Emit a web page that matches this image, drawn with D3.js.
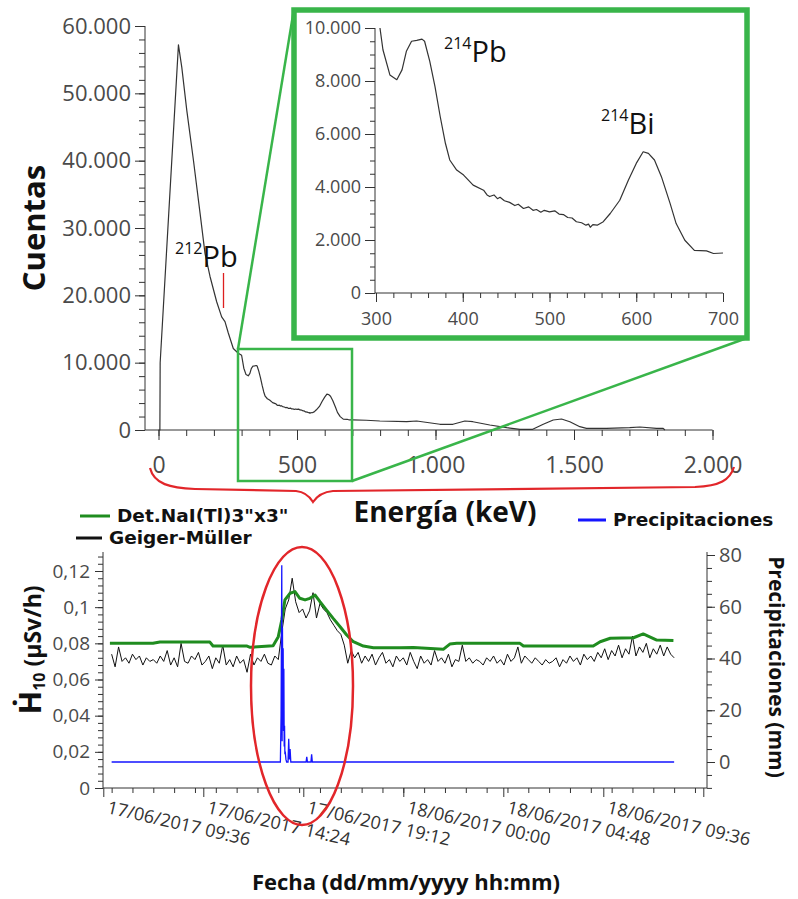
<!DOCTYPE html>
<html>
<head>
<meta charset="utf-8">
<script src="https://d3js.org/d3.v7.min.js"></script>
<style>
  body { margin: 0; background: #fff; }
  svg { display: block; font-family: "Open Sans", sans-serif; }
  .tick text { fill: #4a4a4a; }
  .tick line, .axis-line { stroke: #333; }
  .title { font-weight: 700; fill: #111; }
</style>
</head>
<body>
<svg id="chart" width="798" height="899"></svg>
<script>
// Espectro NaI (cuentas vs energia) + serie temporal de tasa de dosis y lluvia

// --- spectrum (keV, counts) ---
const specEnergy = [0, 5, 6, 72, 84, 102, 126, 150, 168, 186, 210, 228, 240, 252, 270, 288, 300,
  308, 316, 324, 330, 335, 341, 347, 353, 356, 362, 368, 374, 380, 385, 393, 401, 412, 424, 428,
  431, 436, 440, 443, 448, 454, 460, 464, 470, 476, 481, 485, 490, 494, 500, 506, 511, 516, 521,
  526, 531, 537, 542, 545, 547, 550, 555, 562, 570, 581, 591, 600, 608, 614, 621, 629, 639, 646,
  656, 667, 681, 689, 700, 750, 799, 896, 932, 1016, 1063, 1106, 1135, 1196, 1257, 1305, 1351,
  1389, 1425, 1455, 1485, 1521, 1545, 1617, 1701, 1738, 1798, 1822, 1828];
const specCounts = [0, 0, 10000, 57200, 53900, 47500, 40100, 32200, 26200, 22800, 19050, 16800,
  16100, 14400, 12100, 11400, 11100,
  9180, 8230, 8050, 8420, 9120, 9500, 9530, 9580, 9500, 8740, 7790, 6660, 5650, 5020, 4640, 4450,
  4070, 3880, 3700, 3640, 3700, 3560, 3610, 3480, 3420, 3300, 3350, 3190, 3250, 3120, 3150, 3050,
  3120, 3060, 3100, 2980, 2960, 2850, 2830, 2690, 2650, 2560, 2600, 2480, 2580, 2560, 2690, 3000,
  3500, 4260, 4890, 5330, 5270, 5020, 4390, 3380, 2620, 1990, 1610, 1590, 1490, 1510, 1450, 1340,
  1230, 1340, 850, 850, 1340, 1230, 740, 340, 100, 100, 850, 1485, 1630, 1230, 490, 250, 250, 340,
  445, 250, 250, 0];

const countTicks = [0, 10000, 20000, 30000, 40000, 50000, 60000];
const energyTicks = [0, 500, 1000, 1500, 2000];
const insetCountTicks = [0, 2000, 4000, 6000, 8000, 10000];
const insetEnergyTicks = [300, 400, 500, 600, 700];

// --- time series ---
const naiTimes = ["2017-06-17 09:55", "2017-06-17 11:59", "2017-06-17 12:19", "2017-06-17 14:43",
  "2017-06-17 14:52", "2017-06-17 16:30", "2017-06-17 16:39", "2017-06-17 17:45", "2017-06-17 18:00",
  "2017-06-17 18:10", "2017-06-17 18:19", "2017-06-17 18:34", "2017-06-17 18:48", "2017-06-17 19:02",
  "2017-06-17 19:17", "2017-06-17 19:31", "2017-06-17 19:46", "2017-06-17 20:00", "2017-06-17 20:19",
  "2017-06-17 20:38", "2017-06-17 20:58", "2017-06-17 21:17", "2017-06-17 21:36", "2017-06-17 22:05",
  "2017-06-17 22:34", "2017-06-17 23:50", "2017-06-18 00:29", "2017-06-18 01:55", "2017-06-18 02:14",
  "2017-06-18 02:34", "2017-06-18 05:36", "2017-06-18 05:46", "2017-06-18 09:07", "2017-06-18 09:27",
  "2017-06-18 09:56", "2017-06-18 11:03", "2017-06-18 11:31", "2017-06-18 12:10", "2017-06-18 12:58"];
const naiDose = [0.0800, 0.0800, 0.0807, 0.0807, 0.0785, 0.0785, 0.0778, 0.0787, 0.0837, 0.0929,
  0.1040, 0.1077, 0.1086, 0.1049, 0.1040, 0.1049, 0.1067, 0.1030, 0.0984, 0.0938, 0.0892, 0.0846,
  0.0809, 0.0785, 0.0776, 0.0776, 0.0777, 0.0767, 0.0796, 0.0800, 0.0800, 0.0785, 0.0785, 0.0809,
  0.0828, 0.0831, 0.0852, 0.0818, 0.0815];

const gmStart = "2017-06-17 10:00";
const gmStepMinutes = 10;
const gmDose = [
  0.074, 0.067, 0.078, 0.070, 0.072, 0.069, 0.074, 0.071, 0.073, 0.068, 0.072, 0.070,
  0.071, 0.069, 0.073, 0.070, 0.076, 0.068, 0.072, 0.067, 0.080, 0.070, 0.069, 0.073,
  0.071, 0.075, 0.068, 0.070, 0.073, 0.066, 0.072, 0.069, 0.079, 0.068, 0.071, 0.067,
  0.073, 0.069, 0.071, 0.064, 0.074, 0.068, 0.072, 0.070, 0.074, 0.069,
  0.068, 0.073, 0.071, 0.086, 0.099, 0.104, 0.116, 0.103, 0.097, 0.099, 0.094, 0.098, 0.108,
  0.094, 0.102, 0.099, 0.097, 0.093, 0.090, 0.087, 0.085, 0.079, 0.069, 0.076, 0.072, 0.075,
  0.069, 0.073, 0.070, 0.074, 0.068, 0.072, 0.075, 0.069, 0.071, 0.067, 0.073, 0.070,
  0.072, 0.068, 0.075, 0.070, 0.066, 0.073, 0.069, 0.071, 0.068, 0.076, 0.070, 0.072,
  0.069, 0.074, 0.067, 0.071, 0.070, 0.079, 0.070, 0.072, 0.069, 0.071, 0.070, 0.068,
  0.072, 0.070, 0.073, 0.069, 0.071, 0.068, 0.074, 0.070, 0.072, 0.078, 0.069, 0.073,
  0.071, 0.069, 0.072, 0.070, 0.068, 0.071, 0.069, 0.070, 0.072, 0.067, 0.071, 0.069,
  0.073, 0.070, 0.072, 0.068, 0.074, 0.071, 0.073, 0.070, 0.075, 0.072, 0.077, 0.071,
  0.076, 0.073, 0.079, 0.072, 0.077, 0.074, 0.084, 0.073, 0.078, 0.075, 0.080, 0.072,
  0.077, 0.074, 0.079, 0.073, 0.078, 0.074, 0.072];

const rainTimes = ["2017-06-17 10:00", "2017-06-17 18:00", "2017-06-17 18:06", "2017-06-17 18:08",
  "2017-06-17 18:10", "2017-06-17 18:11", "2017-06-17 18:12", "2017-06-17 18:13", "2017-06-17 18:14",
  "2017-06-17 18:15", "2017-06-17 18:16", "2017-06-17 18:17", "2017-06-17 18:18", "2017-06-17 18:19",
  "2017-06-17 18:20", "2017-06-17 18:22", "2017-06-17 18:24", "2017-06-17 18:28", "2017-06-17 18:30",
  "2017-06-17 18:32", "2017-06-17 18:34", "2017-06-17 18:36", "2017-06-17 19:20", "2017-06-17 19:22",
  "2017-06-17 19:24", "2017-06-17 19:34", "2017-06-17 19:36", "2017-06-17 19:38", "2017-06-18 13:00"];
const rainMm = [0, 0, 0, 18, 76, 8, 52, 20, 44, 12, 36, 6, 14, 3, 4, 1, 0, 0, 9, 1, 5, 0, 0, 2, 0, 0, 3, 0, 0];

const doseTicks = [0, 0.02, 0.04, 0.06, 0.08, 0.1, 0.12];
const rainTicks = [0, 20, 40, 60, 80];
const dateTicks = ["2017-06-17 09:36", "2017-06-17 14:24", "2017-06-17 19:12", "2017-06-18 00:00",
  "2017-06-18 04:48", "2017-06-18 09:36", "2017-06-18 14:24"];

(function() {
  const svg = d3.select("#chart");
  const es = d3.formatLocale({ decimal: ",", thousands: ".", grouping: [3], currency: ["", "€"] });
  const fmtCounts = es.format(",d");
  const fmtDose = es.format("~g");
  const parse = d3.timeParse("%Y-%m-%d %H:%M");
  const fmtDate = d3.timeFormat("%d/%m/%Y %H:%M");
  const GREEN = "#39b54a", RED = "#e2262a";

  const spectrum = specEnergy.map((e, i) => ({ e: e, c: specCounts[i] }));

  function hline(g, x1, x2, y) {
    g.append("line").attr("class", "axis-line").attr("x1", x1).attr("x2", x2).attr("y1", y).attr("y2", y);
  }
  function vline(g, x, y1, y2) {
    g.append("line").attr("class", "axis-line").attr("x1", x).attr("x2", x).attr("y1", y1).attr("y2", y2);
  }
  const noDomain = s => s.select(".domain").remove();

  // ===== main spectrum =====
  const xE = d3.scaleLinear().domain([0, 2000]).range([158.5, 712.5]);
  const yC = d3.scaleLinear().domain([0, 60000]).range([430, 26]);
  const top = svg.append("g");

  top.append("g").attr("transform", "translate(145,0)")
    .call(d3.axisLeft(yC).tickValues(d3.range(0, 60001, 2000)).tickSize(6).tickFormat(""))
    .call(noDomain);
  top.append("g").attr("transform", "translate(145,0)")
    .call(d3.axisLeft(yC).tickValues(countTicks).tickSize(10).tickPadding(4).tickFormat(fmtCounts))
    .call(noDomain)
    .selectAll("text").attr("font-size", 22).attr("font-family", "Open Sans");
  vline(top, 145, 26, 430);

  top.append("g").attr("transform", "translate(0,430)")
    .call(d3.axisBottom(xE).tickValues(d3.range(0, 2001, 100)).tickSize(6).tickFormat(""))
    .call(noDomain);
  top.append("g").attr("transform", "translate(0,430)")
    .call(d3.axisBottom(xE).tickValues(energyTicks).tickSize(10).tickPadding(17).tickFormat(fmtCounts))
    .call(noDomain)
    .selectAll("text").attr("font-size", 23).attr("font-family", "Open Sans");
  hline(top, 145, 712.5, 430);

  const specLine = d3.line().x(d => xE(d.e)).y(d => yC(d.c));
  top.append("path").datum(spectrum)
    .attr("fill", "none").attr("stroke", "#333").attr("stroke-width", 1.2)
    .attr("stroke-linejoin", "round").attr("d", specLine);

  // 212Pb label + marker
  top.append("line").attr("x1", 223.5).attr("x2", 223.5).attr("y1", 273).attr("y2", 308)
    .attr("stroke", "#dd1f1f").attr("stroke-width", 1.3);
  const pb212 = top.append("text").attr("x", 175).attr("y", 267).attr("fill", "#111");
  pb212.append("tspan").attr("font-size", 16).attr("dy", -13).text("212");
  pb212.append("tspan").attr("font-size", 29).attr("dy", 13).text("Pb");

  top.append("text").attr("class", "title")
    .attr("transform", "translate(45,228) rotate(-90)")
    .attr("text-anchor", "middle").attr("font-size", 31).text("Cuentas");

  // zoom box + connectors
  top.append("rect").attr("x", 238).attr("y", 349).attr("width", 114).attr("height", 132)
    .attr("fill", "none").attr("stroke", GREEN).attr("stroke-width", 2.5);
  top.append("line").attr("x1", 238).attr("y1", 349).attr("x2", 294).attr("y2", 9)
    .attr("stroke", GREEN).attr("stroke-width", 2.5);
  top.append("line").attr("x1", 352).attr("y1", 481).attr("x2", 747).attr("y2", 338)
    .attr("stroke", GREEN).attr("stroke-width", 2.5);

  // ===== inset =====
  const inset = svg.append("g");
  inset.append("rect").attr("x", 294).attr("y", 10).attr("width", 453).attr("height", 328)
    .attr("fill", "#fff").attr("stroke", GREEN).attr("stroke-width", 5.5);
  const xI = d3.scaleLinear().domain([300, 700]).range([376, 723]);
  const yI = d3.scaleLinear().domain([0, 10000]).range([293, 28]);

  inset.append("g").attr("transform", "translate(375,0)")
    .call(d3.axisLeft(yI).tickValues(d3.range(0, 10001, 500)).tickSize(5).tickFormat(""))
    .call(noDomain);
  inset.append("g").attr("transform", "translate(375,0)")
    .call(d3.axisLeft(yI).tickValues(insetCountTicks).tickSize(10).tickPadding(4).tickFormat(fmtCounts))
    .call(noDomain)
    .selectAll("text").attr("font-size", 18).attr("font-family", "Open Sans");
  vline(inset, 375, 28, 293);

  inset.append("g").attr("transform", "translate(0,293)")
    .call(d3.axisBottom(xI).tickValues(d3.range(300, 701, 20)).tickSize(5).tickFormat(""))
    .call(noDomain);
  inset.append("g").attr("transform", "translate(0,293)")
    .call(d3.axisBottom(xI).tickValues(insetEnergyTicks).tickSize(9).tickPadding(10).tickFormat(d3.format("d")))
    .call(noDomain)
    .selectAll("text").attr("font-size", 18).attr("font-family", "Open Sans");
  hline(inset, 375, 723, 293);

  svg.append("clipPath").attr("id", "insetClip")
    .append("rect").attr("x", 376).attr("y", 28).attr("width", 348).attr("height", 266);
  inset.append("path").datum(spectrum.filter(d => d.e >= 288 && d.e <= 700))
    .attr("clip-path", "url(#insetClip)")
    .attr("fill", "none").attr("stroke", "#333").attr("stroke-width", 1.2)
    .attr("stroke-linejoin", "round")
    .attr("d", d3.line().x(d => xI(d.e)).y(d => yI(d.c)));

  const pb214 = inset.append("text").attr("x", 444).attr("y", 62).attr("fill", "#111");
  pb214.append("tspan").attr("font-size", 16).attr("dy", -13).text("214");
  pb214.append("tspan").attr("font-size", 29).attr("dy", 13).text("Pb");
  const bi214 = inset.append("text").attr("x", 601).attr("y", 134).attr("fill", "#111");
  bi214.append("tspan").attr("font-size", 16).attr("dy", -13).text("214");
  bi214.append("tspan").attr("font-size", 29).attr("dy", 13).text("Bi");

  // brace + energy title
  svg.append("path")
    .attr("d", "M150,468 C154,484 170,488 195,489 L296,491 C306,492 310,497 313,502 C317,496 322,492 333,491 L695,487 C720,486 730,480 734,467")
    .attr("fill", "none").attr("stroke", RED).attr("stroke-width", 2.2);
  svg.append("text").attr("class", "title").attr("x", 445).attr("y", 522)
    .attr("text-anchor", "middle").attr("font-size", 28).text("Energía (keV)");

  // ===== time series =====
  const bot = svg.append("g");
  const xT = d3.scaleTime().domain([parse(dateTicks[0]), parse(dateTicks[6])]).range([103.3, 703.3]);
  const yH = d3.scaleLinear().domain([0, 0.12]).range([788, 571]);
  const yP = d3.scaleLinear().domain([0, 80]).range([762, 555]);

  bot.append("g").attr("transform", "translate(103,0)")
    .call(d3.axisLeft(yH).tickValues(d3.range(0, 0.1301, 0.004)).tickSize(5).tickFormat(""))
    .call(noDomain);
  bot.append("g").attr("transform", "translate(103,0)")
    .call(d3.axisLeft(yH).tickValues(doseTicks).tickSize(8).tickPadding(5).tickFormat(fmtDose))
    .call(noDomain)
    .selectAll("text").attr("font-size", 19).attr("font-family", "Open Sans");
  vline(bot, 103, 552, 788);

  bot.append("g").attr("transform", "translate(707,0)")
    .call(d3.axisRight(yP).tickValues(d3.range(-10, 81, 5)).tickSize(5).tickFormat(""))
    .call(noDomain);
  bot.append("g").attr("transform", "translate(707,0)")
    .call(d3.axisRight(yP).tickValues(rainTicks).tickSize(8).tickPadding(4).tickFormat(d3.format("d")))
    .call(noDomain)
    .selectAll("text").attr("font-size", 20).attr("font-family", "Open Sans");
  vline(bot, 707, 552, 788);

  const minorDates = d3.timeMinute.every(72).range(parse(dateTicks[0]), d3.timeMinute.offset(parse(dateTicks[6]), 1));
  bot.append("g").attr("transform", "translate(0,788)")
    .call(d3.axisBottom(xT).tickValues(minorDates).tickSize(5).tickFormat(""))
    .call(noDomain);
  bot.append("g").attr("transform", "translate(0,788)")
    .call(d3.axisBottom(xT).tickValues(dateTicks.map(parse)).tickSize(9).tickFormat(""))
    .call(noDomain);
  hline(bot, 103, 707, 788);

  bot.append("g").selectAll("text")
    .data(dateTicks.slice(0, 6).map(parse))
    .join("text")
    .attr("transform", d => `translate(${xT(d) + 3},813) rotate(13)`)
    .attr("font-size", 18).attr("fill", "#333")
    .text(d => fmtDate(d));

  // series
  const naiData = naiTimes.map((t, i) => ({ t: parse(t), v: naiDose[i] }));
  const gmData = gmDose.map((v, i) => ({ t: d3.timeMinute.offset(parse(gmStart), i * gmStepMinutes), v: v }));
  const rainData = rainTimes.map((t, i) => ({ t: parse(t), v: rainMm[i] }));

  bot.append("path").datum(gmData)
    .attr("fill", "none").attr("stroke", "#111").attr("stroke-width", 1)
    .attr("d", d3.line().x(d => xT(d.t)).y(d => yH(d.v)));
  bot.append("path").datum(naiData)
    .attr("fill", "none").attr("stroke", "#1f8c1f").attr("stroke-width", 3)
    .attr("stroke-linejoin", "round")
    .attr("d", d3.line().x(d => xT(d.t)).y(d => yH(d.v)));
  bot.append("path").datum(rainData)
    .attr("fill", "none").attr("stroke", "#1515ff").attr("stroke-width", 1.3)
    .attr("d", d3.line().x(d => xT(d.t)).y(d => yP(d.v)));

  bot.append("ellipse").attr("cx", 302).attr("cy", 686).attr("rx", 51).attr("ry", 139)
    .attr("fill", "none").attr("stroke", RED).attr("stroke-width", 2.5);

  // axis titles
  const hLabel = bot.append("text").attr("class", "title")
    .attr("transform", "translate(41,650) rotate(-90)").attr("text-anchor", "middle");
  hLabel.append("tspan").attr("font-size", 31).text("Ḣ");
  hLabel.append("tspan").attr("font-size", 16).attr("dy", 4).text("10");
  hLabel.append("tspan").attr("font-size", 23).attr("dy", -4).text(" (µSv/h)");

  bot.append("text").attr("class", "title")
    .attr("transform", "translate(769,667) rotate(90)")
    .attr("text-anchor", "middle").attr("font-size", 21).text("Precipitaciones (mm)");

  bot.append("text").attr("class", "title").attr("x", 406).attr("y", 890)
    .attr("text-anchor", "middle").attr("font-size", 22).text("Fecha (dd/mm/yyyy hh:mm)");

  // legend
  const legend = [
    { label: "Det.NaI(Tl)3\"x3\"", color: "#1f8c1f", x1: 80, x2: 110, y: 516 },
    { label: "Geiger-Müller", color: "#111", x1: 76, x2: 102, y: 538 },
    { label: "Precipitaciones", color: "#1515ff", x1: 578, x2: 606, y: 520 }
  ];
  const lg = svg.append("g").selectAll("g").data(legend).join("g");
  lg.append("line").attr("x1", d => d.x1).attr("x2", d => d.x2)
    .attr("y1", d => d.y).attr("y2", d => d.y)
    .attr("stroke", d => d.color).attr("stroke-width", 3);
  lg.append("text").attr("font-weight", 700).attr("fill", "#111")
    .attr("font-family", "DejaVu Sans").attr("font-size", 18.5)
    .attr("x", d => d.x2 + 7).attr("y", d => d.y + 6).text(d => d.label);
})();
</script>
</body>
</html>
